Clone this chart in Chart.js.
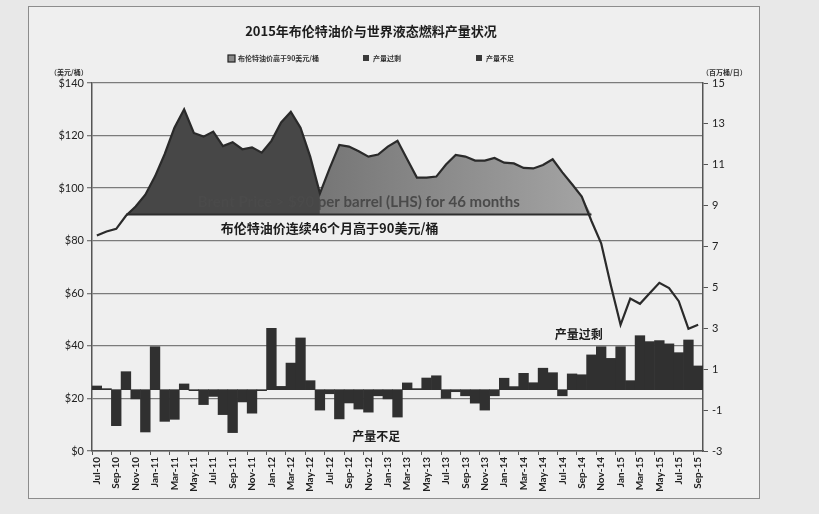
<!DOCTYPE html>
<html>
<head>
<meta charset="utf-8">
<script src="https://cdn.jsdelivr.net/npm/chart.js@4.4.0/dist/chart.umd.min.js"></script>
<style>
    html, body { margin: 0; padding: 0; background: #e8e8e8; }
    #frame { position: absolute; left: 28px; top: 6px; width: 730px; height: 491px; border: 1.5px solid #8c8c8c; background: #efefef; }
    #chart { position: absolute; left: 0; top: 0; }
</style>
</head>
<body>
<div id="frame"></div>
<canvas id="chart" width="819" height="514"></canvas>
<script>
const months = [
    'Jul-10', 'Aug-10', 'Sep-10', 'Oct-10', 'Nov-10', 'Dec-10',
    'Jan-11', 'Feb-11', 'Mar-11', 'Apr-11', 'May-11', 'Jun-11', 'Jul-11', 'Aug-11', 'Sep-11', 'Oct-11', 'Nov-11', 'Dec-11',
    'Jan-12', 'Feb-12', 'Mar-12', 'Apr-12', 'May-12', 'Jun-12', 'Jul-12', 'Aug-12', 'Sep-12', 'Oct-12', 'Nov-12', 'Dec-12',
    'Jan-13', 'Feb-13', 'Mar-13', 'Apr-13', 'May-13', 'Jun-13', 'Jul-13', 'Aug-13', 'Sep-13', 'Oct-13', 'Nov-13', 'Dec-13',
    'Jan-14', 'Feb-14', 'Mar-14', 'Apr-14', 'May-14', 'Jun-14', 'Jul-14', 'Aug-14', 'Sep-14', 'Oct-14', 'Nov-14', 'Dec-14',
    'Jan-15', 'Feb-15', 'Mar-15', 'Apr-15', 'May-15', 'Jun-15', 'Jul-15', 'Aug-15', 'Sep-15'
];

// 布伦特油价 (美元/桶)
const brentPrice = [
    82, 83.5, 84.5, 89.5, 93, 97.5,
    104.5, 113, 123, 130, 121, 119.6, 121.5, 116, 117.5, 114.8, 115.5, 113.5,
    118, 125, 129, 123, 112, 98, 107.5, 116.4, 115.8, 114, 112, 112.8,
    115.8, 118, 111, 104, 104, 104.4, 109, 112.6, 112, 110.5, 110.5, 111.5,
    109.7, 109.4, 107.7, 107.5, 108.8, 111, 106, 101.5, 96.8, 87.5, 79, 63,
    48, 58, 56, 60, 64, 62, 57, 46.5, 48
];

// 产量过剩(+)/不足(-) (百万桶/日)
const supplyBalance = [
    0.18, 0.05, -1.76, 0.88, -0.45, -2.07,
    2.1, -1.55, -1.45, 0.28, -0.05, -0.73, -0.33, -1.22, -2.1, -0.6, -1.15, -0.05,
    3.0, 0.16, 1.3, 2.53, 0.44, -1.0, -0.2, -1.43, -0.65, -0.95, -1.1, -0.3,
    -0.45, -1.34, 0.33, 0.05, 0.57, 0.68, -0.42, -0.1, -0.3, -0.66, -1.0, -0.3,
    0.56, 0.15, 0.8, 0.34, 1.05, 0.83, -0.3, 0.77, 0.73, 1.7, 2.1, 1.53,
    2.1, 0.44, 2.64, 2.35, 2.4, 2.24, 1.81, 2.43, 1.16
];

const priceFloor = 90;
const highStart = 3, highSplit = 23, highEnd = 51;   // 油价高于90美元区间 (月份序号)

const legendLabels = ['布伦特油价高于90美元/桶', '产量过剩', '产量不足'];

const areaDark = brentPrice.map((v, i) => (i >= highStart && i <= highSplit) ? Math.max(v, priceFloor) : null);
const areaLight = brentPrice.map((v, i) => (i >= highSplit && i <= highEnd) ? Math.max(v, priceFloor) : null);
const floorLine = brentPrice.map((v, i) => (i >= highStart && i <= highEnd) ? priceFloor : null);
const surplus = supplyBalance.map(v => v > 0 ? v : null);
const deficit = supplyBalance.map(v => v < 0 ? v : null);

const LATIN = 'Lato, "Noto Sans CJK SC", sans-serif';
const CJK = '"Noto Sans CJK SC", sans-serif';

const textPlugin = {
    id: 'texts',
    afterDatasetsDraw(chart) {
        const { ctx, scales: { x, y, y1 } } = chart;
        ctx.save();
        ctx.textAlign = 'center';
        ctx.textBaseline = 'middle';

        ctx.fillStyle = '#4a4a4a';
        ctx.font = 'bold 15px ' + LATIN;
        ctx.fillText('Brent Price > $90 per barrel (LHS) for 46 months', x.getPixelForValue(27), y.getPixelForValue(94.5));

        ctx.fillStyle = '#1c1c1c';
        ctx.font = 'bold 13px ' + CJK;
        ctx.fillText('布伦特油价连续46个月高于90美元/桶', x.getPixelForValue(24), y.getPixelForValue(85));

        ctx.font = 'bold 12px ' + CJK;
        ctx.fillText('产量过剩', x.getPixelForValue(49.7), y1.getPixelForValue(2.7));
        ctx.fillText('产量不足', x.getPixelForValue(28.8), y1.getPixelForValue(-2.3));
        ctx.restore();
    },
    afterDraw(chart) {
        const ctx = chart.ctx;
        ctx.save();
        ctx.textBaseline = 'middle';
        ctx.fillStyle = '#1c1c1c';
        ctx.textAlign = 'center';
        ctx.font = 'bold 13px ' + CJK;
        ctx.fillText('2015年布伦特油价与世界液态燃料产量状况', 371, 31);

        // legend
        ctx.textAlign = 'left';
        ctx.font = 'bold 7px ' + CJK;
        const lx = [228, 363, 476];
        lx.forEach((px, i) => {
            if (i === 0) {
                ctx.fillStyle = '#8a8a8a';
                ctx.fillRect(px, 55, 7, 7);
                ctx.strokeStyle = '#222';
                ctx.lineWidth = 1.2;
                ctx.strokeRect(px, 55, 7, 7);
            } else {
                ctx.fillStyle = '#3a3a3a';
                ctx.fillRect(px, 55, 6, 6);
            }
            ctx.fillStyle = '#333';
            ctx.fillText(legendLabels[i], px + 10, 58.5);
        });

        // axis units
        ctx.font = 'bold 7px ' + CJK;
        ctx.textAlign = 'left';
        ctx.fillText('（美元/桶）', 50, 72);
        ctx.fillText('（百万桶/日）', 702, 72);
        ctx.restore();
    }
};

new Chart(document.getElementById('chart'), {
    type: 'bar',
    data: {
        labels: months,
        datasets: [
            {
                type: 'line',
                label: '布伦特油价',
                data: brentPrice,
                yAxisID: 'y',
                borderColor: '#2a2a2a',
                borderWidth: 2.2,
                pointRadius: 0,
                fill: false,
                tension: 0,
                order: 0
            },
            {
                type: 'line',
                label: 'floor',
                data: floorLine,
                yAxisID: 'y',
                borderColor: '#2e2e2e',
                borderWidth: 2,
                pointRadius: 0,
                fill: false,
                order: 1
            },
            {
                type: 'line',
                label: legendLabels[0],
                data: areaDark,
                yAxisID: 'y',
                borderWidth: 0,
                pointRadius: 0,
                backgroundColor: '#474747',
                fill: { value: priceFloor },
                order: 2
            },
            {
                type: 'line',
                label: legendLabels[0] + ' 2',
                data: areaLight,
                yAxisID: 'y',
                borderWidth: 0,
                pointRadius: 0,
                backgroundColor(c) {
                    const { ctx, chartArea, scales } = c.chart;
                    if (!chartArea || !scales.x) return '#888';
                    const x0 = scales.x.getPixelForValue(highSplit);
                    const x1 = scales.x.getPixelForValue(highEnd);
                    if (!isFinite(x0) || !isFinite(x1)) return '#888';
                    const g = ctx.createLinearGradient(x0, 0, x1, 0);
                    g.addColorStop(0, '#767676');
                    g.addColorStop(1, '#a4a4a4');
                    return g;
                },
                fill: { value: priceFloor },
                order: 2
            },
            {
                label: legendLabels[1],
                data: surplus,
                yAxisID: 'y1',
                backgroundColor: '#303030',
                barPercentage: 1,
                categoryPercentage: 1,
                grouped: false,
                order: 3
            },
            {
                label: legendLabels[2],
                data: deficit,
                yAxisID: 'y1',
                backgroundColor: '#303030',
                barPercentage: 1,
                categoryPercentage: 1,
                grouped: false,
                order: 3
            }
        ]
    },
    options: {
        responsive: false,
        animation: false,
        layout: { padding: { top: 83, left: 0, right: 0, bottom: 0 } },
        plugins: {
            legend: { display: false },
            title: { display: false },
            tooltip: { enabled: false }
        },
        scales: {
            x: {
                offset: true,
                grid: {
                    drawOnChartArea: false,
                    tickLength: 4,
                    color: c => c.index % 2 === 0 ? '#555' : 'rgba(0,0,0,0)'
                },
                border: { color: '#555', width: 1.5 },
                ticks: {
                    autoSkip: false,
                    minRotation: 90,
                    maxRotation: 90,
                    padding: 2,
                    color: '#222',
                    font: { family: LATIN, size: 10, weight: 'bold' },
                    callback(v, i) { return i % 2 === 0 ? this.getLabelForValue(v) : ''; }
                },
                afterFit(s) { s.height = 63; }
            },
            y: {
                position: 'left',
                min: 0,
                max: 140,
                ticks: {
                    stepSize: 20,
                    padding: 3,
                    color: '#222',
                    font: { family: LATIN, size: 11 },
                    callback: v => '$' + v
                },
                grid: { color: '#7b7b7b', lineWidth: 1.3, tickLength: 5 },
                border: { color: '#555', width: 1.5 },
                afterFit(s) { s.width = 92; }
            },
            y1: {
                position: 'right',
                min: -3,
                max: 15,
                ticks: {
                    stepSize: 2,
                    padding: 4,
                    color: '#222',
                    font: { family: LATIN, size: 11 }
                },
                grid: { drawOnChartArea: false, tickLength: 5, color: '#555' },
                border: { color: '#555', width: 1.5 },
                afterFit(s) { s.width = 116; }
            }
        }
    },
    plugins: [textPlugin]
});
</script>
</body>
</html>
